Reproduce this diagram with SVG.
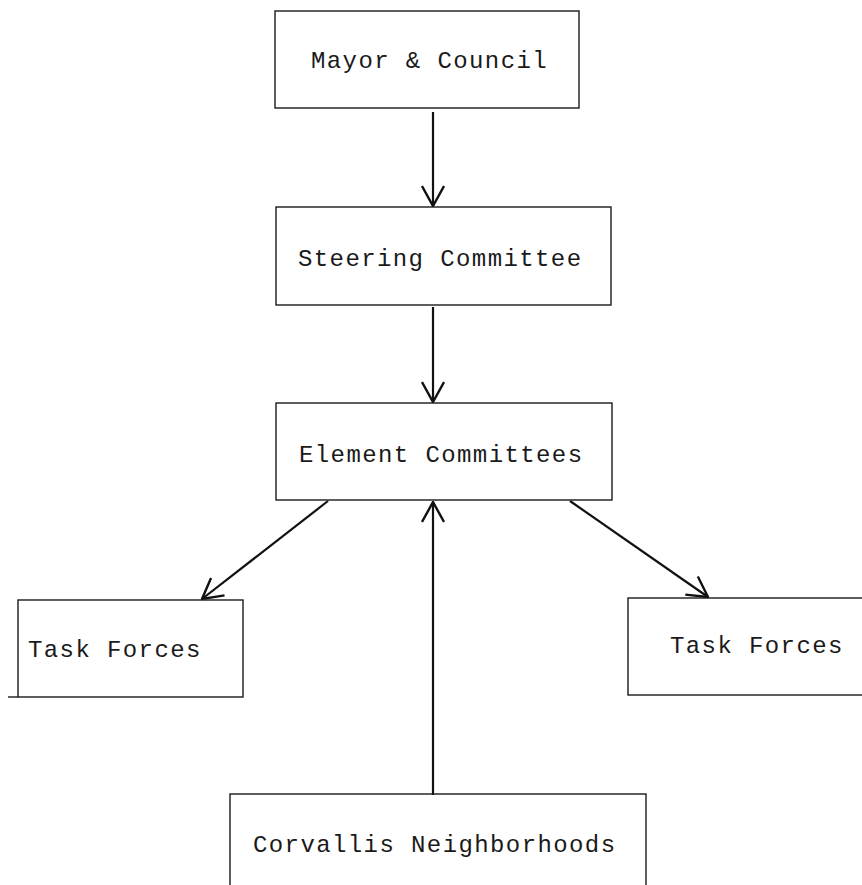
<svg xmlns="http://www.w3.org/2000/svg" width="862" height="885" viewBox="0 0 862 885">
  <style>
    .box { fill: none; stroke: #1a1a1a; stroke-width: 1.4; }
    .lbl { font-family: "Liberation Mono", "DejaVu Sans Mono", monospace; font-size: 24px; letter-spacing: 1.4px; fill: #1a1a1a; }
    .conn { fill: none; stroke: #111; stroke-width: 2.2; }
  </style>
  <defs>
    <marker id="arrow" markerUnits="userSpaceOnUse" viewBox="0 0 22 24" refX="21" refY="12" markerWidth="22" markerHeight="24" orient="auto">
      <path d="M1,1 L21,12 L1,23" fill="none" stroke="#111" stroke-width="2.4" stroke-linejoin="miter"/>
    </marker>
  </defs>
  <rect width="862" height="885" fill="#ffffff"/>

  <g id="connectors">
    <line class="conn" x1="433" y1="112" x2="433" y2="206" marker-end="url(#arrow)"/>
    <line class="conn" x1="433" y1="307" x2="433" y2="402" marker-end="url(#arrow)"/>
    <line class="conn" x1="433" y1="795" x2="433" y2="502" marker-end="url(#arrow)"/>
    <line class="conn" x1="328" y1="501" x2="202" y2="599" marker-end="url(#arrow)"/>
    <line class="conn" x1="570" y1="501" x2="708" y2="597" marker-end="url(#arrow)"/>
  </g>

  <g id="mayor-council">
    <rect class="box" x="275" y="11" width="304" height="97"/>
    <text class="lbl" x="311" y="68">Mayor &amp; Council</text>
  </g>

  <g id="steering-committee">
    <rect class="box" x="276" y="207" width="335" height="98"/>
    <text class="lbl" x="298" y="266">Steering Committee</text>
  </g>

  <g id="element-committees">
    <rect class="box" x="276" y="403" width="336" height="97"/>
    <text class="lbl" x="299" y="462">Element Committees</text>
  </g>

  <g id="task-forces-left">
    <rect class="box" x="18" y="600" width="225" height="97"/>
    <line class="box" x1="8" y1="697" x2="18" y2="697"/>
    <text class="lbl" x="28" y="657">Task Forces</text>
  </g>

  <g id="task-forces-right">
    <rect class="box" x="628" y="598" width="240" height="97"/>
    <text class="lbl" x="670" y="653">Task Forces</text>
  </g>

  <g id="corvallis-neighborhoods">
    <rect class="box" x="230" y="794" width="416" height="100"/>
    <text class="lbl" x="253" y="852">Corvallis Neighborhoods</text>
  </g>
</svg>
